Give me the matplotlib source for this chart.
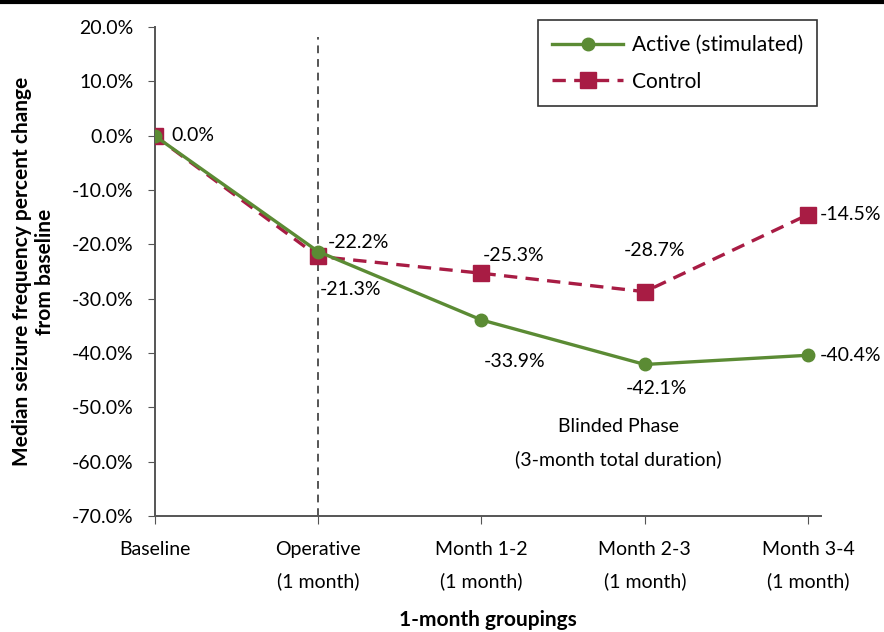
import matplotlib.pyplot as plt
import numpy as np

# categories and values
groups = ["Baseline", "Operative\n(1 month)", "Month 1-2\n(1 month)",
          "Month 2-3\n(1 month)", "Month 3-4\n(1 month)"]
active = [0.0, -21.3, -33.9, -42.1, -40.4]
control = [0.0, -22.2, -25.3, -28.7, -14.5]
yticks = np.arange(-70, 21, 10)

plt.rcParams["font.family"] = ["Lato", "DejaVu Sans"]

fig = plt.figure(figsize=(8.84, 6.32), dpi=100)
ax = fig.add_axes([0.175, 0.1835, 0.754, 0.7735])

green = "#5b8b34"
red = "#a81c44"
fs = 14
x = np.arange(len(groups))

ax.plot(x, control, color=red, lw=2.4, ls=(0, (4, 2.5)), marker="s", ms=11,
        label="Control", zorder=3)
ax.plot(x, active, color=green, lw=2.4, marker="o", ms=9,
        label="Active (stimulated)", zorder=4)

# vertical divider at the operative month
ax.axvline(1, ymax=0.98, color="#555555", lw=1.4, ls=(0, (4, 3)), zorder=1)

# value labels
ax.annotate("0.0%", (0, 0), xytext=(12, 0), textcoords="offset points",
            va="center", fontsize=fs)
ax.annotate("-22.2%", (1, control[1]), xytext=(7, 10), textcoords="offset points",
            va="center", fontsize=fs)
ax.annotate("-21.3%", (1, active[1]), xytext=(1, -27), textcoords="offset points",
            va="center", fontsize=fs)
ax.annotate("-25.3%", (2, control[2]), xytext=(1, 13), textcoords="offset points",
            va="center", fontsize=fs)
ax.annotate("-33.9%", (2, active[2]), xytext=(2, -30), textcoords="offset points",
            va="center", fontsize=fs)
ax.annotate("-28.7%", (3, control[3]), xytext=(-15, 30), textcoords="offset points",
            va="center", fontsize=fs)
ax.annotate("-42.1%", (3, active[3]), xytext=(-14, -17), textcoords="offset points",
            va="center", fontsize=fs)
ax.annotate("-14.5%", (4, control[4]), xytext=(8, 0), textcoords="offset points",
            va="center", fontsize=fs)
ax.annotate("-40.4%", (4, active[4]), xytext=(8, 0), textcoords="offset points",
            va="center", fontsize=fs)

ax.text(2.84, -53.5, "Blinded Phase", ha="center", va="center", fontsize=fs)
ax.text(2.84, -59.5, "(3-month total duration)", ha="center", va="center", fontsize=fs)

ax.set_xlim(0, 4.08)
ax.set_ylim(-70, 20)
ax.set_xticks(x)
ax.set_xticklabels(groups, fontsize=fs, linespacing=1.95)
ax.set_yticks(yticks)
ax.set_yticklabels([f"{v:.1f}%" for v in yticks], fontsize=fs)
ax.tick_params(axis="x", direction="out", length=6, pad=12, color="#555555")
ax.tick_params(axis="y", direction="out", length=5, pad=10, color="#555555")
for s in ["top", "right"]:
    ax.spines[s].set_visible(False)
for s in ["left", "bottom"]:
    ax.spines[s].set_color("#555555")
    ax.spines[s].set_linewidth(1.4)

ax.set_xlabel("1-month groupings", fontsize=15, fontweight="bold", labelpad=14)
ax.set_ylabel("Median seizure frequency percent change\nfrom baseline",
              fontsize=15, fontweight="bold", labelpad=12)

handles, labels = ax.get_legend_handles_labels()
leg = ax.legend(handles[::-1], labels[::-1], loc="upper right",
                bbox_to_anchor=(1.01, 1.035), fontsize=15, frameon=True,
                fancybox=False, edgecolor="black", handlelength=3.4,
                borderpad=0.7, labelspacing=0.8, handletextpad=0.4)
leg.get_frame().set_linewidth(1.2)

# thick rule at the top of the figure
fig.add_artist(plt.Line2D([0, 1], [0.997, 0.997], color="black", lw=3,
                          transform=fig.transFigure))

fig.savefig("out.png", dpi=100)
